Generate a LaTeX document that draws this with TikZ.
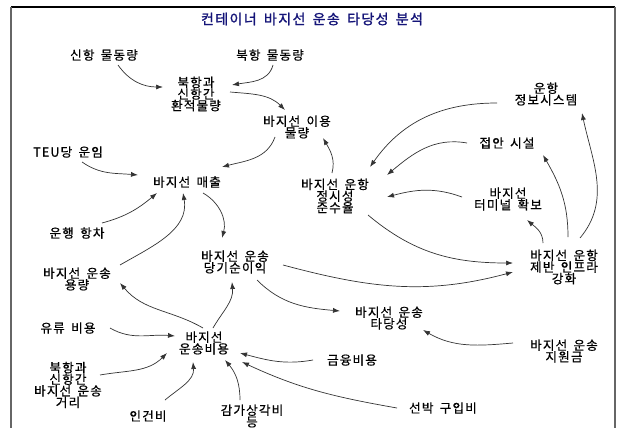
\documentclass[tikz,border=0pt]{standalone}
\usepackage{fontspec}
\usetikzlibrary{arrows.meta}
\newfontfamily\kr[LetterSpace=9,WordSpace=1.6,FakeBold=0.6]{Noto Sans CJK KR}
\newfontfamily\krb[LetterSpace=10,WordSpace=1.6,FakeBold=1.4]{Noto Sans CJK KR}
\definecolor{titlecol}{RGB}{20,20,120}
\tikzset{
  lab/.style={font=\kr\fontsize{12.6}{11.6}\selectfont, align=center, inner sep=0pt, text=black},
  ttl/.style={font=\krb\fontsize{14}{16}\selectfont, inner sep=0pt, text=titlecol},
  arr/.style={draw=black!80, line width=0.7pt, -{Latex[length=7pt,width=5pt]}},
}
\begin{document}
\begin{tikzpicture}[x=1pt,y=-1pt]
\useasboundingbox (0,0) rectangle (621,428);
\fill[white] (0,0) rectangle (621,428);
% frame
\draw[black, line width=1.2pt] (11,7) -- (615,7);
\draw[black!60, line width=1.6pt] (11,7) -- (11,440);
\draw[black!60, line width=1.6pt] (615,7) -- (615,440);
% title
\node[ttl] (title) at (312,19) {컨테이너 바지선 운송 타당성 분석};
% nodes
\node[lab] (sh) at (104,55) {신항 물동량};
\node[lab] (bh) at (270,55) {북항 물동량};
\node[lab] (hw) at (196,94) {북항과\\신항간\\환적물량};
\node[lab] (iy) at (297,127) {바지선 이용\\물량};
\node[lab] (teu) at (68,152) {TEU당 운임};
\node[lab] (ms) at (187,182) {바지선 매출};
\node[lab] (js) at (335,196) {바지선 운항\\정시성\\준수율};
\node[lab] (ih) at (546,94) {운항\\정보시스템};
\node[lab] (ja) at (507,143) {접안 시설};
\node[lab] (tm) at (508,199) {바지선\\터미널 확보};
\node[lab] (gh) at (564,267) {바지선 운항\\제반 인프라\\강화};
\node[lab] (uh) at (77,233) {운행 항차};
\node[lab] (yr) at (77,279) {바지선 운송\\용량};
\node[lab] (dg) at (235,262) {바지선 운송\\당기순이익};
\node[lab] (td) at (389,318) {바지선 운송\\타당성};
\node[lab] (jw) at (564,351) {바지선 운송\\지원금};
\node[lab] (yy) at (68,328) {유류 비용};
\node[lab] (ub) at (204,343) {바지선\\운송비용};
\node[lab] (gr) at (68,385) {북항과\\신항간\\바지선 운송\\거리};
\node[lab] (ig) at (148,416) {인건비};
\node[lab] (gs) at (252,416) {감가상각비\\등};
\node[lab] (gy) at (352,360) {금융비용};
\node[lab] (sb) at (443,408) {선박 구입비};
% connectors
\draw[arr] ([shift={(14,10)}]sh.center) to[out=-55,in=180] ([shift={(-33,-7)}]hw.center);
\draw[arr] ([shift={(3,10)}]bh.center) to[out=-105,in=10] ([shift={(36,-9)}]hw.center);
\draw[arr] ([shift={(34,-2)}]hw.center) to[out=-5,in=135] ([shift={(-12,-17)}]iy.center);
\draw[arr] ([shift={(-22,10)}]iy.center) to[out=-110,in=15] ([shift={(35,-15)}]ms.center);
\draw[arr] ([shift={(14,10)}]teu.center) to[out=-35,in=175] ([shift={(-49,-7)}]ms.center);
\draw[arr] ([shift={(25,-10)}]uh.center) to[out=15,in=-140] ([shift={(-30,11)}]ms.center);
\draw[arr] ([shift={(43,-14)}]yr.center) to[out=30,in=-80] ([shift={(-4,11)}]ms.center);
\draw[arr] ([shift={(16,11)}]ms.center) to[out=-30,in=75] ([shift={(-13,-24)}]dg.center);
\draw[arr] ([shift={(-3,-23)}]js.center) to[out=75,in=-60] ([shift={(26,11)}]iy.center);
\draw[arr] ([shift={(-49,9)}]ih.center) to[out=180,in=55] ([shift={(35,-29)}]js.center);
\draw[arr] ([shift={(-40,0)}]ja.center) to[out=170,in=40] ([shift={(52,-21)}]js.center);
\draw[arr] ([shift={(-46,-2)}]tm.center) to[out=160,in=15] ([shift={(52,1)}]js.center);
\draw[arr] ([shift={(33,19)}]js.center) to[out=-40,in=180] ([shift={(-51,-4)}]gh.center);
\draw[arr] ([shift={(48,3)}]dg.center) to[out=-15,in=-165] ([shift={(-51,5)}]gh.center);
\draw[arr] ([shift={(22,18)}]dg.center) to[out=-45,in=175] ([shift={(-49,-7)}]td.center);
\draw[arr] ([shift={(-51,-8)}]jw.center) to[out=-175,in=-30] ([shift={(34,12)}]td.center);
\draw[arr] ([shift={(-21,-24)}]gh.center) to[out=90,in=-40] ([shift={(19,21)}]tm.center);
\draw[arr] ([shift={(4,-30)}]gh.center) to[out=90,in=-60] ([shift={(36,12)}]ja.center);
\draw[arr] ([shift={(16,-29)}]gh.center) to[out=50,in=-78] ([shift={(36,19)}]ih.center);
\draw[arr] ([shift={(42,0)}]yy.center) to[out=-30,in=175] ([shift={(-29,-7)}]ub.center);
\draw[arr] ([shift={(32,-10)}]gr.center) to[out=10,in=-135] ([shift={(-37,10)}]ub.center);
\draw[arr] ([shift={(17,-16)}]ig.center) to[out=40,in=-85] ([shift={(-11,19)}]ub.center);
\draw[arr] ([shift={(-12,-16)}]gs.center) to[out=90,in=-50] ([shift={(21,17)}]ub.center);
\draw[arr] ([shift={(-39,0)}]gy.center) to[out=-170,in=-15] ([shift={(36,10)}]ub.center);
\draw[arr] ([shift={(-46,0)}]sb.center) to[out=170,in=-25] ([shift={(38,19)}]ub.center);
\draw[arr] ([shift={(-1,-15)}]ub.center) to[out=150,in=-50] ([shift={(43,4)}]yr.center);
\draw[arr] ([shift={(9,-15)}]ub.center) to[out=60,in=-85] ([shift={(-3,20)}]dg.center);
\end{tikzpicture}
\end{document}
